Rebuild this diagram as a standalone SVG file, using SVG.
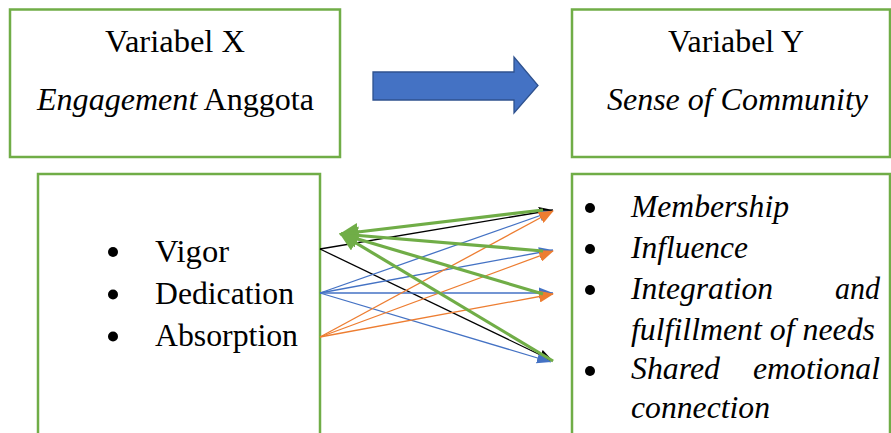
<svg xmlns="http://www.w3.org/2000/svg" width="891" height="433" viewBox="0 0 891 433">
<style>
.box{fill:#fff;stroke:#70AD47;stroke-width:2.5}
.t{font-family:Tinos,'Liberation Serif','Times New Roman',serif;font-size:31px;fill:#000}
.i{font-style:italic}
.c{stroke-width:1.3;fill:none}
.g{stroke:#70AD47;stroke-width:3.2;fill:none}
.b{fill:#000}
</style>
<defs>
<marker id="mk" markerUnits="userSpaceOnUse" markerWidth="15" markerHeight="12" refX="14" refY="6" orient="auto"><path d="M0,0.5 L14,6 L0,11.5 z" fill="#000"/></marker>
<marker id="mb" markerUnits="userSpaceOnUse" markerWidth="15" markerHeight="12" refX="14" refY="6" orient="auto"><path d="M0,0.5 L14,6 L0,11.5 z" fill="#4472C4"/></marker>
<marker id="mo" markerUnits="userSpaceOnUse" markerWidth="15" markerHeight="12" refX="14" refY="6" orient="auto"><path d="M0,0 L15,6 L0,12 z" fill="#ED7D31"/></marker>
<marker id="mg" markerUnits="userSpaceOnUse" markerWidth="20" markerHeight="18" refX="17" refY="9" orient="auto"><path d="M0,0 L19,9 L0,18 z" fill="#70AD47"/></marker>
</defs>

<g id="box-x">
<rect class="box" x="10" y="9.5" width="330" height="147.5"/>
<text class="t" x="105" y="52" textLength="140" lengthAdjust="spacingAndGlyphs">Variabel X</text>
<text class="t" x="37" y="110" textLength="277" lengthAdjust="spacingAndGlyphs"><tspan class="i">Engagement</tspan> Anggota</text>
</g>

<g id="box-y">
<rect class="box" x="572" y="9.5" width="318" height="147.5"/>
<text class="t" x="668" y="52" textLength="136" lengthAdjust="spacingAndGlyphs">Variabel Y</text>
<text class="t i" x="607" y="110" textLength="261" lengthAdjust="spacingAndGlyphs">Sense of Community</text>
</g>

<g id="big-arrow">
<path d="M373,72 L514,72 L514,57 L538,85.5 L514,113 L514,100 L373,100 z" fill="#4472C4" stroke="#2F528F" stroke-width="1.3"/>
</g>

<g id="box-x-dims">
<rect class="box" x="38" y="174" width="282" height="270"/>
<circle class="b" cx="113" cy="252" r="5"/>
<text class="t" x="155" y="262" textLength="74" lengthAdjust="spacingAndGlyphs">Vigor</text>
<circle class="b" cx="113" cy="294.5" r="5"/>
<text class="t" x="155" y="303.5" textLength="139" lengthAdjust="spacingAndGlyphs">Dedication</text>
<circle class="b" cx="113" cy="336.5" r="5"/>
<text class="t" x="155" y="345.5" textLength="143" lengthAdjust="spacingAndGlyphs">Absorption</text>
</g>

<g id="box-y-dims">
<rect class="box" x="572" y="174" width="318" height="270"/>
<circle class="b" cx="590" cy="208" r="5"/>
<text class="t i" x="631" y="217" textLength="158" lengthAdjust="spacingAndGlyphs">Membership</text>
<circle class="b" cx="590" cy="249" r="5"/>
<text class="t i" x="631" y="258" textLength="117" lengthAdjust="spacingAndGlyphs">Influence</text>
<circle class="b" cx="590" cy="290" r="5"/>
<text class="t i" x="631" y="299" textLength="142" lengthAdjust="spacingAndGlyphs">Integration</text>
<text class="t i" x="835" y="299" textLength="45" lengthAdjust="spacingAndGlyphs">and</text>
<text class="t i" x="631" y="340" textLength="244" lengthAdjust="spacingAndGlyphs">fulfillment of needs</text>
<circle class="b" cx="590" cy="371" r="5"/>
<text class="t i" x="631" y="379" textLength="89" lengthAdjust="spacingAndGlyphs">Shared</text>
<text class="t i" x="753" y="379" textLength="127" lengthAdjust="spacingAndGlyphs">emotional</text>
<text class="t i" x="631" y="418" textLength="139" lengthAdjust="spacingAndGlyphs">connection</text>
</g>

<g id="connectors">
<line class="c" x1="320" y1="249" x2="553" y2="210" stroke="#000" marker-end="url(#mk)"/>
<line class="c" x1="320" y1="249" x2="553" y2="361" stroke="#000" marker-end="url(#mk)"/>
<line class="c" x1="320" y1="293" x2="553" y2="211" stroke="#4472C4" marker-end="url(#mb)"/>
<line class="c" x1="320" y1="293" x2="553" y2="250" stroke="#4472C4" marker-end="url(#mb)"/>
<line class="c" x1="320" y1="293" x2="553" y2="293" stroke="#4472C4" marker-end="url(#mb)"/>
<line class="c" x1="320" y1="293" x2="551" y2="362" stroke="#4472C4" marker-end="url(#mb)"/>
<line class="c" x1="320" y1="337" x2="553" y2="211" stroke="#ED7D31" marker-end="url(#mo)"/>
<line class="c" x1="320" y1="337" x2="553" y2="251" stroke="#ED7D31" marker-end="url(#mo)"/>
<line class="c" x1="320" y1="337" x2="553" y2="294" stroke="#ED7D31" marker-end="url(#mo)"/>
<line class="g" x1="543" y1="210" x2="341" y2="234" marker-end="url(#mg)"/>
<line class="g" x1="543" y1="251" x2="341" y2="234" marker-end="url(#mg)"/>
<line class="g" x1="543" y1="294" x2="341" y2="234" marker-end="url(#mg)"/>
<line class="g" x1="553" y1="361" x2="341" y2="234" marker-end="url(#mg)"/>
</g>
</svg>
